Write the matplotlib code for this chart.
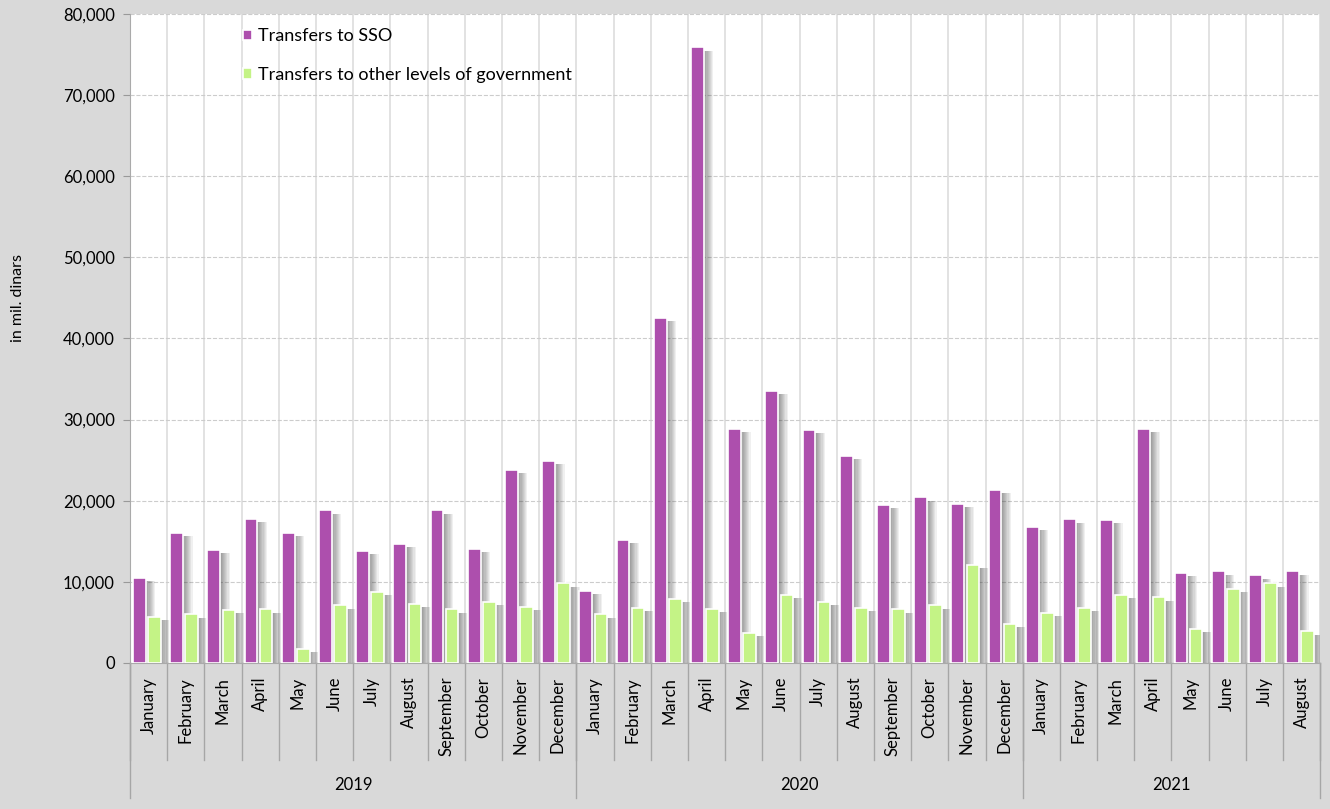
import matplotlib
matplotlib.use('Agg')
import matplotlib.pyplot as plt
import matplotlib.transforms as mtransforms
import numpy as np

# Data
months = ["January", "February", "March", "April", "May", "June", "July",
          "August", "September", "October", "November", "December",
          "January", "February", "March", "April", "May", "June", "July",
          "August", "September", "October", "November", "December",
          "January", "February", "March", "April", "May", "June", "July", "August"]
years = ["2019", "2020", "2021"]
months_per_year = [12, 12, 8]

sso = [10.5, 16.0, 13.9, 17.8, 16.0, 18.8, 13.8, 14.7, 18.8, 14.1, 23.8, 24.9,
       8.9, 15.2, 42.5, 75.9, 28.9, 33.5, 28.7, 25.5, 19.5, 20.4, 19.6, 21.3,
       16.8, 17.7, 17.6, 28.9, 11.1, 11.3, 10.8, 11.3]
other = [5.7, 6.0, 6.5, 6.6, 1.7, 7.1, 8.8, 7.3, 6.6, 7.5, 6.9, 9.8,
         6.0, 6.8, 7.9, 6.7, 3.7, 8.4, 7.5, 6.8, 6.6, 7.1, 12.1, 4.8,
         6.2, 6.8, 8.4, 8.1, 4.2, 9.1, 9.8, 3.9]
sso = np.array(sso) * 1000
other = np.array(other) * 1000

PURPLE = '#ad4fad'
GREEN = '#c4f386'
BG = '#d9d9d9'

plt.rcParams['font.family'] = ['Lato', 'DejaVu Sans']

fig = plt.figure(figsize=(13.3, 8.09), dpi=100, facecolor=BG)
ax = fig.add_axes([0.0977, 0.1805, 0.895, 0.8022])
ax.set_facecolor('white')

x = np.arange(len(months))
w = 0.34
x_sso = x - 0.245
x_oth = x + 0.16

# soft gradient shadows to the right of each bar
for dx in np.linspace(0.04, 0.26, 8):
    ax.bar(x_sso + dx, sso - 100, w, bottom=-300, color='#333333', alpha=0.07,
           linewidth=0, zorder=2)
    ax.bar(x_oth + dx, other - 100, w, bottom=-300, color='#333333', alpha=0.07,
           linewidth=0, zorder=2)

ax.bar(x_sso, sso, w, color=PURPLE, edgecolor='white', linewidth=1.2,
       zorder=3, label='Transfers to SSO')
ax.bar(x_oth, other, w, color=GREEN, edgecolor='white', linewidth=1.2,
       zorder=3, label='Transfers to other levels of government')

ax.set_xlim(-0.5, len(months) - 0.5)
ax.set_ylim(0, 80000)
ax.set_yticks(np.arange(0, 80001, 10000))
ax.set_yticklabels([f"{v:,}" for v in range(0, 80001, 10000)], fontsize=12)
ax.yaxis.grid(True, color='#cccccc', linestyle='--', linewidth=0.8, zorder=0)
for b in np.arange(-0.5, len(months), 1.0):
    ax.axvline(b, color='#dddddd', linewidth=1.2, zorder=0)
ax.set_axisbelow(True)

ax.tick_params(axis='y', length=5, color='#999999', pad=6)
ax.set_xticks(x)
ax.set_xticklabels(months, rotation=90, fontsize=12, va='top')
ax.tick_params(axis='x', length=0, pad=10)

for side in ['top', 'right']:
    ax.spines[side].set_visible(False)
ax.spines['left'].set_color('#aaaaaa')
ax.spines['bottom'].set_color('#aaaaaa')

fig.text(0.0135, 0.632, 'in mil. dinars', rotation=90, ha='center',
         va='center', fontsize=11.5)

# category axis separators and year labels
trans = mtransforms.blended_transform_factory(ax.transData, ax.transAxes)
for b in np.arange(-0.5, len(months) + 0.5, 1.0):
    ax.plot([b, b], [0, -0.150], color='#a6a6a6', linewidth=1,
            transform=trans, clip_on=False)
start = 0
for yr, n in zip(years, months_per_year):
    ax.plot([start - 0.5, start - 0.5], [0, -0.208], color='#a6a6a6',
            linewidth=1, transform=trans, clip_on=False)
    ax.text(start + n / 2 - 0.5, -0.188, yr, transform=trans, ha='center',
            va='center', fontsize=12)
    start += n
ax.plot([start - 0.5, start - 0.5], [0, -0.208], color='#a6a6a6',
        linewidth=1, transform=trans, clip_on=False)

ax.legend(loc='upper left', bbox_to_anchor=(0.081, 1.003), frameon=False,
          fontsize=13, handlelength=0.5, handleheight=0.5,
          handletextpad=0.35, labelspacing=1.25)

fig.savefig('out.png', dpi=100, facecolor=BG)
